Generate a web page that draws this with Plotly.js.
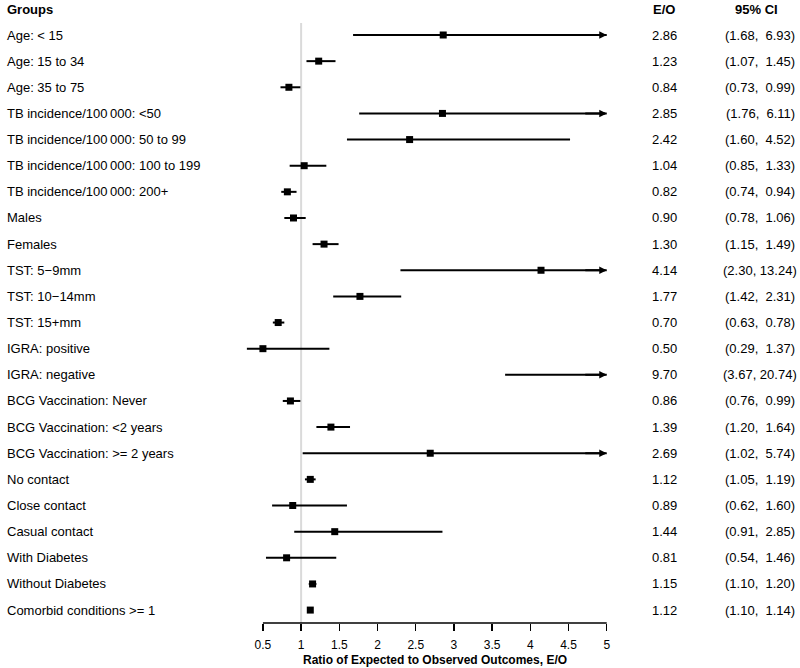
<!DOCTYPE html>
<html>
<head>
<meta charset="utf-8">
<script src="https://cdn.plot.ly/plotly-3.0.1.min.js"></script>
<style>html,body{margin:0;padding:0;background:#fff;}#chart{width:800px;height:668px;}</style>
</head>
<body>
<div id="chart"></div>
<script>
var groups = [
  "Age: < 15", "Age: 15 to 34", "Age: 35 to 75",
  "TB incidence/100\u2009000: <50", "TB incidence/100\u2009000: 50 to 99",
  "TB incidence/100\u2009000: 100 to 199", "TB incidence/100\u2009000: 200+",
  "Males", "Females",
  "TST: 5\u22129mm", "TST: 10\u221214mm", "TST: 15+mm",
  "IGRA: positive", "IGRA: negative",
  "BCG Vaccination: Never", "BCG Vaccination: <2 years", "BCG Vaccination: >= 2 years",
  "No contact", "Close contact", "Casual contact",
  "With Diabetes", "Without Diabetes", "Comorbid conditions >= 1"
];
var eo    = [2.86, 1.23, 0.84, 2.85, 2.42, 1.04, 0.82, 0.90, 1.30, 4.14, 1.77, 0.70, 0.50, 9.70, 0.86, 1.39, 2.69, 1.12, 0.89, 1.44, 0.81, 1.15, 1.12];
var lower = [1.68, 1.07, 0.73, 1.76, 1.60, 0.85, 0.74, 0.78, 1.15, 2.30, 1.42, 0.63, 0.29, 3.67, 0.76, 1.20, 1.02, 1.05, 0.62, 0.91, 0.54, 1.10, 1.10];
var upper = [6.93, 1.45, 0.99, 6.11, 4.52, 1.33, 0.94, 1.06, 1.49, 13.24, 2.31, 0.78, 1.37, 20.74, 0.99, 1.64, 5.74, 1.19, 1.60, 2.85, 1.46, 1.20, 1.14];
var tickVals = [0.5, 1, 1.5, 2, 2.5, 3, 3.5, 4, 4.5, 5];
var tickText = ["0.5", "1", "1.5", "2", "2.5", "3", "3.5", "4", "4.5", "5"];
var xMax = 5;

var FONT = "Arial, 'Liberation Sans', sans-serif";
var L = 240, W = 382, T = 23, H = 600;
var ROW0 = 35, ROWSTEP = 26.14;
function px2paperX(p){ return (p - L) / W; }
function px2paperY(p){ return (T + H - p) / H; }

var n = groups.length;
var ys = groups.map(function(_, i){ return i; });

// CI segments (clipped at xMax)
var segX = [], segY = [];
for (var i = 0; i < n; i++) {
  segX.push(lower[i], Math.min(upper[i], xMax), null);
  segY.push(i, i, null);
}

var traces = [
  {x: segX, y: segY, mode: 'lines', type: 'scatter', line: {color: '#000', width: 2}, hoverinfo: 'skip', showlegend: false},
  {x: eo, y: ys, mode: 'markers', type: 'scatter', marker: {symbol: 'square', size: 7, color: '#000'}, showlegend: false}
];

var annotations = [];
var fmt = function(v){ return v.toFixed(2); };
function pad(s, w){ while (s.length < w) s = '\u00a0' + s; return s; }

for (var i = 0; i < n; i++) {
  annotations.push({xref: 'paper', yref: 'y', x: px2paperX(5), y: i, text: groups[i], showarrow: false,
    xanchor: 'left', yanchor: 'middle', font: {family: FONT, size: 13, color: '#000'}});
  annotations.push({xref: 'paper', yref: 'y', x: px2paperX(664), y: i, text: fmt(eo[i]), showarrow: false,
    xanchor: 'center', yanchor: 'middle', font: {family: FONT, size: 13, color: '#000'}});
  annotations.push({xref: 'paper', yref: 'y', x: px2paperX(760), y: i,
    text: '(' + fmt(lower[i]) + ',\u00a0' + pad(fmt(upper[i]), 5) + ')', showarrow: false,
    xanchor: 'center', yanchor: 'middle', font: {family: FONT, size: 13, color: '#000'}});
  if (upper[i] > xMax) {
    annotations.push({xref: 'x', yref: 'y', x: xMax, y: i, axref: 'x', ayref: 'y',
      ax: Math.max(lower[i], xMax - 0.3), ay: i, text: '', showarrow: true,
      arrowhead: 2, arrowsize: 0.75, arrowwidth: 2, arrowcolor: '#000', standoff: 0, startstandoff: 0});
  }
}
var headY = px2paperY(10);
annotations.push({xref: 'paper', yref: 'paper', x: px2paperX(5), y: headY, text: '<b>Groups</b>', showarrow: false,
  xanchor: 'left', yanchor: 'middle', font: {family: FONT, size: 13, color: '#000'}});
annotations.push({xref: 'paper', yref: 'paper', x: px2paperX(664), y: headY, text: '<b>E/O</b>', showarrow: false,
  xanchor: 'center', yanchor: 'middle', font: {family: FONT, size: 13, color: '#000'}});
annotations.push({xref: 'paper', yref: 'paper', x: px2paperX(756), y: headY, text: '<b>95% CI</b>', showarrow: false,
  xanchor: 'center', yanchor: 'middle', font: {family: FONT, size: 13, color: '#000'}});
annotations.push({xref: 'x', yref: 'paper', x: (tickVals[0] + tickVals[tickVals.length-1]) / 2, y: px2paperY(660),
  text: '<b>Ratio of Expected to Observed Outcomes, E/O</b>', showarrow: false,
  xanchor: 'center', yanchor: 'middle', font: {family: FONT, size: 12, color: '#000'}});

var layout = {
  width: 800, height: 668,
  margin: {l: L, r: 800 - L - W, t: T, b: 668 - T - H, pad: 0},
  paper_bgcolor: '#fff', plot_bgcolor: '#fff',
  showlegend: false,
  font: {family: FONT, size: 12, color: '#000'},
  xaxis: {range: [0.2, 5.2], showgrid: false, zeroline: false, showline: false,
    tickmode: 'array', tickvals: tickVals, ticktext: tickText,
    ticks: 'outside', ticklen: 7, tickwidth: 1.5, tickcolor: '#000',
    tickfont: {family: FONT, size: 12, color: '#000'}, ticklabelstandoff: 4, fixedrange: true},
  yaxis: {range: [(T + H - ROW0) / ROWSTEP, (T - ROW0) / ROWSTEP],
    showgrid: false, zeroline: false, showline: false, showticklabels: false, ticks: '', fixedrange: true},
  shapes: [
    {type: 'line', xref: 'x', yref: 'paper', x0: 1, x1: 1, y0: 0, y1: 1, layer: 'below',
      line: {color: '#dadada', width: 2}},
    {type: 'line', xref: 'x', yref: 'paper', x0: tickVals[0], x1: tickVals[tickVals.length-1], y0: 0, y1: 0,
      line: {color: '#000', width: 1.5}}
  ],
  annotations: annotations
};

Plotly.newPlot('chart', traces, layout, {displayModeBar: false, staticPlot: true});
</script>
</body>
</html>
